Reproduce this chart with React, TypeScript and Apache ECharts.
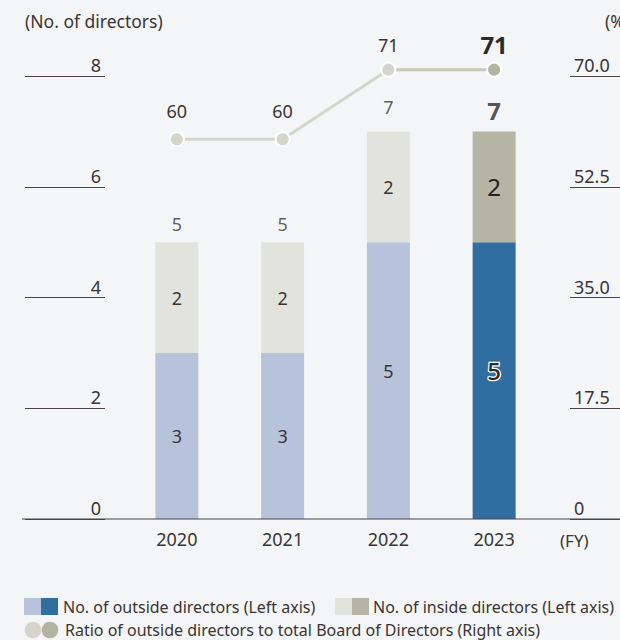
import React, { useEffect, useRef } from "react";
import * as echarts from "echarts";

const years = ["2020", "2021", "2022", "2023"];
const outsideDirectors = [3, 3, 5, 5];
const insideDirectors = [2, 2, 2, 2];
const outsideRatio = [60, 60, 71, 71];
const leftAxis = { min: 0, max: 8, interval: 2 };
const rightAxis = { min: 0, max: 70, interval: 17.5 };

const FONT = "'Noto Sans', 'Open Sans', sans-serif";
const TEXT = "#3a3434";
const LINE = "#4a4244";
const BLUE_LIGHT = "#b7c2db";
const BLUE_DARK = "#2f6e9f";
const GRAY_LIGHT = "#e3e3de";
const GRAY_DARK = "#b6b5a5";
const DOT_LIGHT = "#d6d5cc";
const DOT_MID = "#c8c7b8";
const DOT_DARK = "#b3b3a2";

export default function App() {
  const ref = useRef<HTMLDivElement>(null);

  useEffect(() => {
    document.body.style.margin = "0";
    if (!ref.current) return;
    const chart = echarts.init(ref.current, null, { renderer: "svg" });
    const last = years.length - 1;
    const totals = outsideDirectors.map((v, i) => v + insideDirectors[i]);

    const gridTop = 76;
    const gridBottom = 121;
    const axisY = 640 - gridBottom;

    chart.setOption({
      animation: false,
      backgroundColor: "#f4f5f7",
      textStyle: { fontFamily: FONT, color: TEXT },
      grid: { left: 124, right: 73, top: gridTop, bottom: gridBottom, containLabel: false },
      xAxis: {
        type: "category",
        data: years,
        axisLine: { show: false },
        axisTick: { show: false },
        axisLabel: { color: TEXT, fontSize: 18, fontFamily: FONT, margin: 11 },
      },
      yAxis: [
        {
          type: "value",
          min: leftAxis.min,
          max: leftAxis.max,
          interval: leftAxis.interval,
          position: "left",
          offset: 19,
          axisLine: { show: false },
          axisTick: { show: true, length: 80, inside: false, lineStyle: { color: LINE, width: 1 } },
          splitLine: { show: false },
          axisLabel: {
            color: TEXT,
            fontSize: 18,
            fontFamily: FONT,
            margin: 4,
            verticalAlign: "bottom",
            padding: [0, 0, 2, 0],
          },
        },
        {
          type: "value",
          min: rightAxis.min,
          max: rightAxis.max,
          interval: rightAxis.interval,
          position: "right",
          offset: 23,
          axisLine: { show: false },
          axisTick: { show: true, length: 60, inside: false, lineStyle: { color: LINE, width: 1 } },
          splitLine: { show: false },
          axisLabel: {
            color: TEXT,
            fontSize: 18,
            fontFamily: FONT,
            margin: 4,
            verticalAlign: "bottom",
            padding: [0, 0, 2, 0],
            formatter: (v: number) => (v === 0 ? "0" : v.toFixed(1)),
          },
        },
      ],
      visualMap: {
        show: false,
        type: "piecewise",
        seriesIndex: 3,
        dimension: 0,
        pieces: [
          { lte: 2, color: DOT_LIGHT },
          { gt: 2, lt: 3, color: DOT_MID },
          { gte: 3, color: DOT_DARK },
        ],
      },
      series: [
        {
          name: "outside",
          type: "bar",
          stack: "total",
          barWidth: 43,
          data: outsideDirectors.map((v, i) =>
            i === last
              ? {
                  value: v,
                  itemStyle: { color: BLUE_DARK },
                  label: {
                    fontSize: 24,
                    fontWeight: 500,
                    color: "#2a2a2a",
                    textBorderColor: "#ffffff",
                    textBorderWidth: 2.5,
                    offset: [0, -10],
                  },
                }
              : i === 2
              ? { value: v, label: { offset: [0, -10] } }
              : { value: v }
          ),
          itemStyle: { color: BLUE_LIGHT },
          label: { show: true, position: "inside", fontSize: 18, color: TEXT, fontFamily: FONT },
        },
        {
          name: "inside",
          type: "bar",
          stack: "total",
          barWidth: 43,
          data: insideDirectors.map((v, i) =>
            i === last
              ? { value: v, itemStyle: { color: GRAY_DARK }, label: { fontSize: 24, color: "#222" } }
              : { value: v }
          ),
          itemStyle: { color: GRAY_LIGHT },
          label: { show: true, position: "inside", fontSize: 18, color: TEXT, fontFamily: FONT },
        },
        {
          name: "total",
          type: "scatter",
          symbolSize: 0,
          silent: true,
          data: totals.map((v, i) =>
            i === last
              ? { value: v, label: { fontSize: 24, fontWeight: "bold", color: "#2a2a2a", distance: 9 } }
              : i === 2
              ? { value: v, label: { distance: 15 } }
              : { value: v }
          ),
          label: { show: true, position: "top", distance: 9, fontSize: 18, color: TEXT, fontFamily: FONT },
        },
        {
          name: "ratio",
          type: "line",
          yAxisIndex: 1,
          clip: false,
          symbol: "circle",
          symbolSize: 14,
          data: outsideRatio.map((v, i) =>
            i === last
              ? { value: v, label: { fontSize: 24, fontWeight: "bold", color: "#2a2a2a", distance: 5 } }
              : i === 2
              ? { value: v, label: { distance: 8 } }
              : { value: v }
          ),
          lineStyle: { width: 3 },
          itemStyle: { borderColor: "#ffffff", borderWidth: 2 },
          label: { show: true, position: "top", distance: 11, fontSize: 18, color: TEXT, fontFamily: FONT },
        },
      ],
      graphic: [
        {
          type: "line",
          shape: { x1: 22, y1: axisY, x2: 620, y2: axisY },
          style: { stroke: LINE, lineWidth: 1 },
          z: 10,
        },
        {
          type: "text",
          x: 25,
          y: 21,
          style: { text: "(No. of directors)", fill: TEXT, font: `17.5px ${FONT}`, verticalAlign: "middle" },
        },
        {
          type: "text",
          x: 605,
          y: 21,
          style: { text: "(%)", fill: TEXT, font: `17.5px ${FONT}`, verticalAlign: "middle" },
        },
        {
          type: "text",
          x: 560,
          y: 540,
          style: { text: "(FY)", fill: TEXT, font: `17px ${FONT}`, verticalAlign: "middle" },
        },
        { type: "rect", shape: { x: 24, y: 598, width: 17, height: 17 }, style: { fill: BLUE_LIGHT } },
        { type: "rect", shape: { x: 41, y: 598, width: 17, height: 17 }, style: { fill: BLUE_DARK } },
        {
          type: "text",
          x: 63,
          y: 607,
          style: { text: "No. of outside directors (Left axis)", fill: TEXT, font: `16px ${FONT}`, verticalAlign: "middle" },
        },
        { type: "rect", shape: { x: 335, y: 598, width: 17, height: 17 }, style: { fill: GRAY_LIGHT } },
        { type: "rect", shape: { x: 352, y: 598, width: 17, height: 17 }, style: { fill: GRAY_DARK } },
        {
          type: "text",
          x: 373,
          y: 607,
          style: { text: "No. of inside directors (Left axis)", fill: TEXT, font: `16px ${FONT}`, verticalAlign: "middle" },
        },
        { type: "circle", shape: { cx: 33, cy: 630, r: 8.3 }, style: { fill: DOT_LIGHT } },
        { type: "circle", shape: { cx: 50, cy: 630, r: 8.3 }, style: { fill: DOT_DARK } },
        {
          type: "text",
          x: 65,
          y: 630,
          style: {
            text: "Ratio of outside directors to total Board of Directors (Right axis)",
            fill: TEXT,
            font: `16px ${FONT}`,
            verticalAlign: "middle",
          },
        },
      ],
    });

    return () => chart.dispose();
  }, []);

  return <div ref={ref} style={{ width: 620, height: 640 }} />;
}
